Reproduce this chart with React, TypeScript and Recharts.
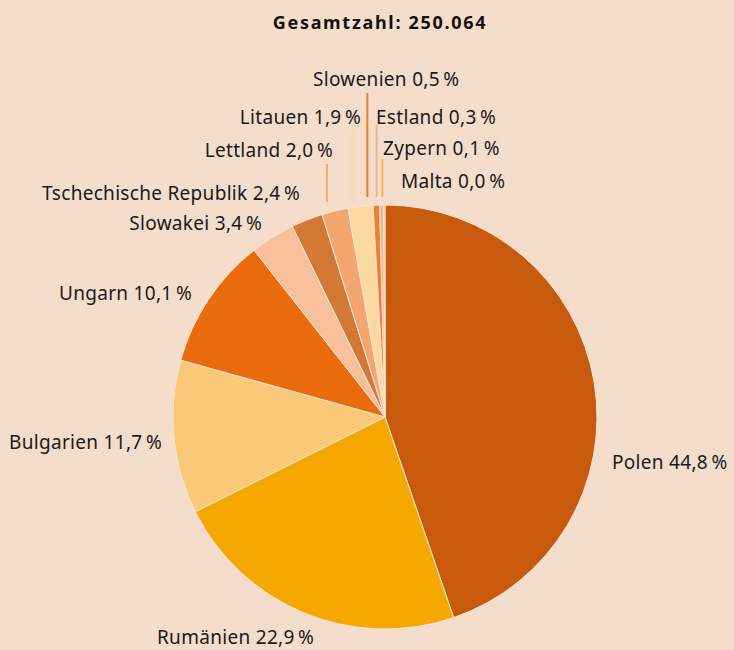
import { PieChart, Pie, Cell } from 'recharts';

const COUNTRIES = [
  'Polen',
  'Rumänien',
  'Bulgarien',
  'Ungarn',
  'Slowakei',
  'Tschechische Republik',
  'Lettland',
  'Litauen',
  'Slowenien',
  'Estland',
  'Zypern',
  'Malta',
];
const SHARES = [44.8, 22.9, 11.7, 10.1, 3.4, 2.4, 2.0, 1.9, 0.5, 0.3, 0.1, 0.0];
const COLORS = [
  '#c85a0e',
  '#f5a800',
  '#f9c878',
  '#e96b0c',
  '#f8bf9b',
  '#d47838',
  '#f4a66e',
  '#fcd9a0',
  '#ef7f2f',
  '#e9b797',
  '#f8b840',
  '#f5a800',
];
const TOTAL = '250.064';

const BG = '#f5ddcb';
const CX = 385;
const CY = 417;
const R = 212;
const FONT = "'Noto Sans', 'Open Sans', sans-serif";

// label placement, relative to the pie centre (layout only)
const LABEL_POS: { dx: number; dy: number; anchor: 'start' | 'end'; lineTop?: number; lineDx?: number; lineBottom?: number }[] = [
  { dx: 227, dy: 45, anchor: 'start' },
  { dx: -228, dy: 220, anchor: 'start' },
  { dx: -223, dy: 25, anchor: 'end' },
  { dx: -193, dy: -124, anchor: 'end' },
  { dx: -123, dy: -194, anchor: 'end' },
  { dx: -85, dy: -224, anchor: 'end' },
  { dx: -52, dy: -267, anchor: 'end', lineTop: -253, lineDx: -8, lineBottom: -215 },
  { dx: -24, dy: -300, anchor: 'end', lineTop: -287, lineDx: -8, lineBottom: -215 },
  { dx: -72, dy: -338, anchor: 'start', lineTop: -324, lineDx: -9, lineBottom: -220 },
  { dx: -9, dy: -300, anchor: 'start', lineTop: -292, lineDx: -5, lineBottom: -220 },
  { dx: -2, dy: -269, anchor: 'start', lineTop: -258, lineDx: -2, lineBottom: -220 },
  { dx: 16, dy: -236, anchor: 'start' },
];

const data = COUNTRIES.map((name, i) => ({ name, value: SHARES[i] }));

const fmt = (v: number) => v.toFixed(1).replace('.', ',');

const renderLabel = (props: any) => {
  const { cx, cy, midAngle, outerRadius, index } = props;
  const pos = LABEL_POS[index];
  const item = data[index];
  const rad = (Math.PI / 180) * midAngle;
  const edgeX = cx + outerRadius * Math.cos(-rad);
  return (
    <g key={`lbl-${index}`}>
      {pos.lineTop !== undefined && (
        <line
          x1={edgeX + (pos.lineDx ?? 0)}
          x2={edgeX + (pos.lineDx ?? 0)}
          y1={cy + pos.lineTop}
          y2={cy + (pos.lineBottom ?? -215)}
          stroke={COLORS[index]}
          strokeWidth={2}
        />
      )}
      <text
        x={cx + pos.dx}
        y={cy + pos.dy}
        textAnchor={pos.anchor}
        dominantBaseline="central"
        fill="#1a1a1a"
        fontSize={19}
        letterSpacing={0.3}
        fontFamily={FONT}
      >
        {`${item.name} ${fmt(item.value)}\u2009%`}
      </text>
    </g>
  );
};

export default function App() {
  return (
    <div style={{ position: 'absolute', left: 0, top: 0, width: 734, height: 650, background: BG, overflow: 'hidden' }}>
      <div
        style={{
          position: 'absolute',
          left: 0,
          top: 10,
          width: 760,
          textAlign: 'center',
          fontFamily: FONT,
          fontWeight: 'bold',
          fontSize: 18,
          letterSpacing: 1.7,
          color: '#111',
        }}
      >
        Gesamtzahl: {TOTAL}
      </div>
      <PieChart width={734} height={650} margin={{ top: 0, right: 0, bottom: 0, left: 0 }}>
        <Pie
          data={data}
          dataKey="value"
          nameKey="name"
          cx={CX}
          cy={CY}
          outerRadius={R}
          startAngle={90}
          endAngle={-270}
          stroke="#f7e4d4"
          strokeWidth={1}
          label={renderLabel}
          labelLine={false}
          isAnimationActive={false}
        >
          {data.map((entry, index) => (
            <Cell key={`cell-${index}`} fill={COLORS[index % COLORS.length]} />
          ))}
        </Pie>
      </PieChart>
    </div>
  );
}
